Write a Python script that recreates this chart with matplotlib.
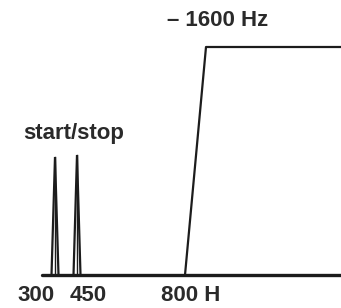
import matplotlib
matplotlib.use("Agg")
import matplotlib.pyplot as plt

# schematic positions (axis units ~ pixels), heights above baseline
spike_x = [55, 77]
spike_h = [118, 120]
spike_w = 3.5
ramp_x = [185, 206, 341]
ramp_y = [0, 228, 228]
base_x = [42, 341]

labels = ["300", "450", "800 H"]
label_x = [36, 88, 191]
top_label = "\u2013 1600 Hz"
spike_label = "start/stop"

ink = "#1c1c1c"
plt.rcParams['font.family'] = ['Liberation Sans', 'DejaVu Sans']

fig = plt.figure(figsize=(3.41, 3.08), dpi=100)
ax = fig.add_axes([0, 0, 1, 1])
ax.set_xlim(0, 341)
ax.set_ylim(-33, 275)
ax.axis('off')

for x, h in zip(spike_x, spike_h):
    ax.plot([x - spike_w, x, x + spike_w], [0, h, 0], color=ink, lw=1.6,
            solid_joinstyle='miter')
    ax.plot([x, x], [0, h], color=ink, lw=1.0)

ax.plot(ramp_x, ramp_y, color=ink, lw=1.6, solid_joinstyle='round')
ax.plot(base_x, [0, 0], color=ink, lw=2.4, solid_capstyle='round')

for t, x in zip(labels, label_x):
    ax.text(x, -31, t, ha='center', va='bottom', fontsize=16,
            fontweight='bold', color='#2a2a2a')
ax.text(74, 142, spike_label, ha='center', va='center', fontsize=16,
        fontweight='bold', color='#2a2a2a')
ax.text(218, 254, top_label, ha='center', va='center', fontsize=16,
        fontweight='bold', color='#2a2a2a')

fig.savefig("out.png", dpi=100)
